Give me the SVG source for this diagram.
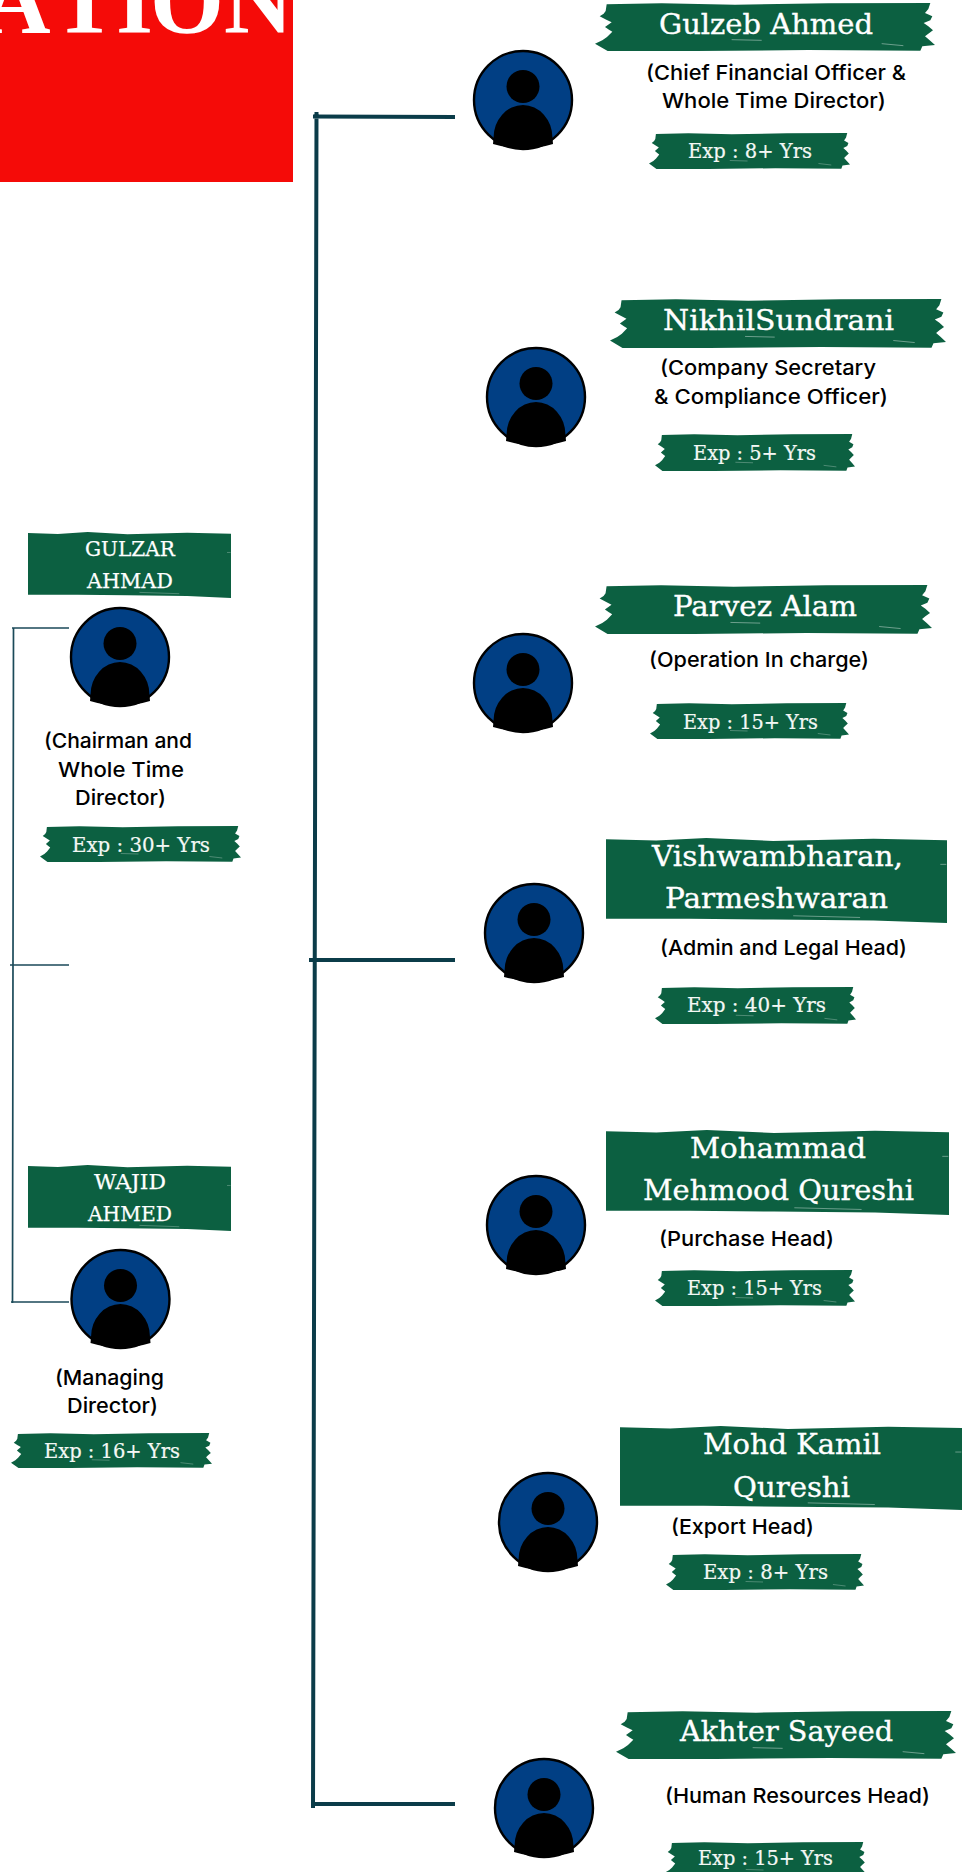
<svg xmlns="http://www.w3.org/2000/svg" xmlns:xlink="http://www.w3.org/1999/xlink" width="962" height="1872" viewBox="0 0 962 1872">
<style>
.n{font-family:"DejaVu Serif","Liberation Serif",serif;font-size:28px;fill:#fff;stroke:#fff;stroke-width:.35px}
.s{font-size:21px;stroke-width:.25px}
.e{font-family:"DejaVu Serif","Liberation Serif",serif;font-size:20.5px;fill:#f4f8f5;stroke:#f4f8f5;stroke-width:.2px}
.d{font-family:"Inter","Liberation Sans",sans-serif;font-size:20.5px;font-weight:500;fill:#000}
.c1{stroke:#0b3c49;stroke-width:4;fill:none}
.c2{stroke:#1b4a59;stroke-width:1.7;fill:none}
</style>
<defs>
<symbol id="torn" viewBox="0 0 1020 144" preserveAspectRatio="none"><path fill="#0c6041" d="M35 4L200 1L420 5L700 1L1006 0L1000 18L990 30L1012 40L1006 52L986 60L1000 70L1014 82L1000 92L990 100L1004 112L1020 126L982 130L976 143L640 141L300 144L38 144L0 122L22 112L36 102L52 86L42 80L30 72L50 58L34 50L14 40L26 32L32 24Z"/><path fill="none" stroke="#fff" stroke-width="2" stroke-opacity=".6" d="M860 122L925 128M410 110L500 112"/></symbol>
<symbol id="rough" viewBox="0 0 1020 200" preserveAspectRatio="none"><path fill="#0c6041" d="M0 3L150 6L300 0L500 7L800 2L1020 5L1020 200L800 194L500 192L250 190L0 190Z"/><path fill="none" stroke="#fff" stroke-width="2" stroke-opacity=".5" d="M560 183L760 187M1000 62L1018 62"/></symbol>
<g id="person"><circle cx="0" cy="0" r="49" fill="#013f84" stroke="#000" stroke-width="2.400"/><circle cx="0" cy="-13.500" r="16.500" fill="#000"/><path fill="#000" d="M-29.500 38A29.500 33 0 0 1 29.500 38L30 44Q0 53 -30 44Z"/></g>
</defs>
<rect width="962" height="1872" fill="#fff"/>
<g id="title"><rect x="0" y="0" width="293" height="182" fill="#f50b08"/><text x="-18 53 116 150 224" y="33" font-family="'Liberation Serif',serif" font-weight="700" font-size="95" fill="#fff">ATION</text></g>
<g id="connectors">
<path class="c1" d="M316.500 112L313 1808M313 116.500L455 117M309 960H455M312 1804H455"/>
<path class="c2" d="M13.500 628L12.500 1303M12 628H69M10 965H69M11 1302H69"/>
</g>
<g id="gulzar"><use xlink:href="#rough" href="#rough" x="28" y="532" width="203" height="66"/><text class="n s" x="85" y="556" textLength="90" lengthAdjust="spacingAndGlyphs">GULZAR</text><text class="n s" x="87" y="588" textLength="86" lengthAdjust="spacingAndGlyphs">AHMAD</text><use xlink:href="#person" href="#person" x="120" y="657"/><text class="d" x="44" y="748" textLength="148" lengthAdjust="spacingAndGlyphs">(Chairman and</text><text class="d" x="58" y="777" textLength="126" lengthAdjust="spacingAndGlyphs">Whole Time</text><text class="d" x="75" y="805" textLength="91" lengthAdjust="spacingAndGlyphs">Director)</text><use xlink:href="#torn" href="#torn" x="40" y="826" width="201" height="36"/><text class="e" x="72" y="852" textLength="138" lengthAdjust="spacingAndGlyphs">Exp : 30+ Yrs</text></g>
<g id="wajid"><use xlink:href="#rough" href="#rough" x="28" y="1165" width="203" height="66"/><text class="n s" x="94" y="1189" textLength="72" lengthAdjust="spacingAndGlyphs">WAJID</text><text class="n s" x="88" y="1221" textLength="84" lengthAdjust="spacingAndGlyphs">AHMED</text><use xlink:href="#person" href="#person" x="120.500" y="1299"/><text class="d" x="55" y="1385" textLength="109" lengthAdjust="spacingAndGlyphs">(Managing</text><text class="d" x="67" y="1413" textLength="91" lengthAdjust="spacingAndGlyphs">Director)</text><use xlink:href="#torn" href="#torn" x="11" y="1433" width="201" height="35"/><text class="e" x="44" y="1458" textLength="136" lengthAdjust="spacingAndGlyphs">Exp : 16+ Yrs</text></g>
<g id="gulzeb"><use xlink:href="#person" href="#person" x="523" y="100"/><use xlink:href="#torn" href="#torn" x="595" y="3" width="340" height="48"/><text class="n" x="659" y="34" textLength="214" lengthAdjust="spacingAndGlyphs">Gulzeb Ahmed</text><text class="d" x="646" y="80" textLength="260" lengthAdjust="spacingAndGlyphs">(Chief Financial Officer &amp;</text><text class="d" x="662" y="108" textLength="224" lengthAdjust="spacingAndGlyphs">Whole Time Director)</text><use xlink:href="#torn" href="#torn" x="649" y="133" width="201" height="36"/><text class="e" x="688" y="158" textLength="124" lengthAdjust="spacingAndGlyphs">Exp : 8+ Yrs</text></g>
<g id="nikhil"><use xlink:href="#person" href="#person" x="536" y="397"/><use xlink:href="#torn" href="#torn" x="610" y="299" width="336" height="49"/><text class="n" x="663" y="330" textLength="231" lengthAdjust="spacingAndGlyphs">NikhilSundrani</text><text class="d" x="660" y="375" textLength="216" lengthAdjust="spacingAndGlyphs">(Company Secretary</text><text class="d" x="654" y="404" textLength="234" lengthAdjust="spacingAndGlyphs">&amp; Compliance Officer)</text><use xlink:href="#torn" href="#torn" x="655" y="434" width="200" height="37"/><text class="e" x="693" y="460" textLength="123" lengthAdjust="spacingAndGlyphs">Exp : 5+ Yrs</text></g>
<g id="parvez"><use xlink:href="#person" href="#person" x="523" y="683"/><use xlink:href="#torn" href="#torn" x="595" y="585" width="337" height="49"/><text class="n" x="673" y="616" textLength="184" lengthAdjust="spacingAndGlyphs">Parvez Alam</text><text class="d" x="649" y="667" textLength="220" lengthAdjust="spacingAndGlyphs">(Operation In charge)</text><use xlink:href="#torn" href="#torn" x="650" y="703" width="199" height="36"/><text class="e" x="683" y="729" textLength="135" lengthAdjust="spacingAndGlyphs">Exp : 15+ Yrs</text></g>
<g id="vishwambharan"><use xlink:href="#person" href="#person" x="534" y="933"/><use xlink:href="#rough" href="#rough" x="606" y="838" width="341" height="85"/><text class="n" x="652" y="866" textLength="251" lengthAdjust="spacingAndGlyphs">Vishwambharan,</text><text class="n" x="665" y="908" textLength="223" lengthAdjust="spacingAndGlyphs">Parmeshwaran</text><text class="d" x="660" y="955" textLength="247" lengthAdjust="spacingAndGlyphs">(Admin and Legal Head)</text><use xlink:href="#torn" href="#torn" x="655" y="987" width="201" height="37"/><text class="e" x="687" y="1012" textLength="139" lengthAdjust="spacingAndGlyphs">Exp : 40+ Yrs</text></g>
<g id="mohammad"><use xlink:href="#person" href="#person" x="536" y="1225"/><use xlink:href="#rough" href="#rough" x="606" y="1130" width="343" height="85"/><text class="n" x="690" y="1158" textLength="176" lengthAdjust="spacingAndGlyphs">Mohammad</text><text class="n" x="643" y="1200" textLength="271" lengthAdjust="spacingAndGlyphs">Mehmood Qureshi</text><text class="d" x="659" y="1246" textLength="175" lengthAdjust="spacingAndGlyphs">(Purchase Head)</text><use xlink:href="#torn" href="#torn" x="655" y="1270" width="200" height="36"/><text class="e" x="687" y="1295" textLength="135" lengthAdjust="spacingAndGlyphs">Exp : 15+ Yrs</text></g>
<g id="kamil"><use xlink:href="#person" href="#person" x="548" y="1522"/><use xlink:href="#rough" href="#rough" x="620" y="1426" width="342" height="84"/><text class="n" x="703" y="1454" textLength="178" lengthAdjust="spacingAndGlyphs">Mohd Kamil</text><text class="n" x="733" y="1497" textLength="117" lengthAdjust="spacingAndGlyphs">Qureshi</text><text class="d" x="671" y="1534" textLength="143" lengthAdjust="spacingAndGlyphs">(Export Head)</text><use xlink:href="#torn" href="#torn" x="666" y="1554" width="198" height="36"/><text class="e" x="703" y="1579" textLength="125" lengthAdjust="spacingAndGlyphs">Exp : 8+ Yrs</text></g>
<g id="akhter"><use xlink:href="#person" href="#person" x="544" y="1808"/><use xlink:href="#torn" href="#torn" x="616" y="1711" width="340" height="48"/><text class="n" x="680" y="1741" textLength="213" lengthAdjust="spacingAndGlyphs">Akhter Sayeed</text><text class="d" x="665" y="1803" textLength="265" lengthAdjust="spacingAndGlyphs">(Human Resources Head)</text><use xlink:href="#torn" href="#torn" x="665" y="1842" width="201" height="36"/><text class="e" x="698" y="1865" textLength="135" lengthAdjust="spacingAndGlyphs">Exp : 15+ Yrs</text></g>
</svg>
